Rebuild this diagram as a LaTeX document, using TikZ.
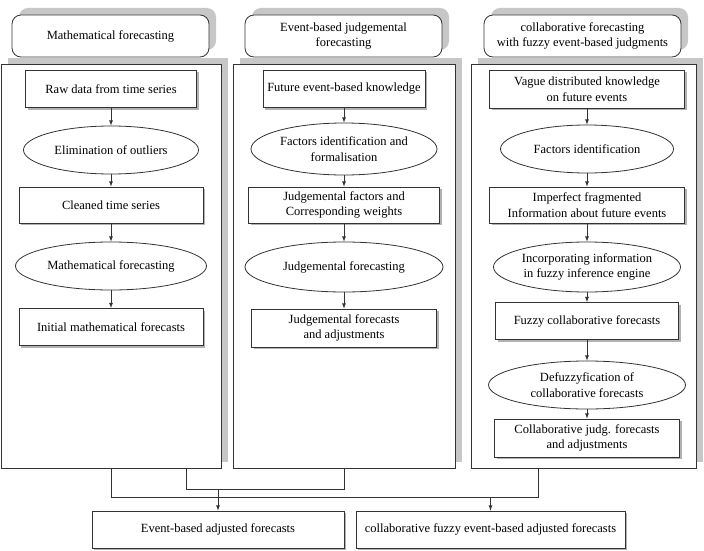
\documentclass[tikz,border=0pt]{standalone}
\usepackage{fontspec}
\setmainfont{Liberation Serif}
\usetikzlibrary{shapes.geometric,shadows}

\begin{document}
\begin{tikzpicture}[x=1pt,y=-1pt,>=latex,
    every node/.style={font=\fontsize{12.5}{15.5}\selectfont,align=center,inner sep=0pt},
    box/.style={draw=black!80,fill=white,line width=0.8pt,minimum height=37pt,
        drop shadow={shadow xshift=2pt,shadow yshift=-2pt,fill=black!30,opacity=1}},
    oval/.style={ellipse,draw=black!80,fill=white,line width=0.8pt,minimum height=48pt},
    frame/.style={draw=black!80,fill=white,line width=0.8pt,minimum height=404pt,
        general shadow={shadow xshift=7pt,shadow yshift=6pt,fill=black!22}},
    head/.style={draw=black!80,fill=white,line width=0.8pt,rounded corners=9pt,
        minimum width=197pt,minimum height=42pt,
        general shadow={shadow xshift=7pt,shadow yshift=7pt,fill=black!22}},
    link/.style={draw=black!80,line width=0.8pt}]
    \useasboundingbox (0,0) rectangle (704,551);

    % headers
    \node[head] (mathhead) at (110.5,36) {Mathematical forecasting};
    \node[head] (evthead) at (343.5,36) {Event-based judgemental\\forecasting};
    \node[head] (colhead) at (582.5,36) {collaborative forecasting\\with fuzzy event-based judgments};

    % column frames
    \node[frame,minimum width=220pt] (mathcol) at (111,266) {};
    \node[frame,minimum width=222pt] (evtcol) at (344,266) {};
    \node[frame,minimum width=225pt] (colcol) at (583.5,266) {};

    % mathematical forecasting
    \node[box,minimum width=171pt] (raw) at (111,89) {Raw data from time series};
    \node[oval,minimum width=175pt] (elim) at (111,150) {Elimination of outliers};
    \node[box,minimum width=184pt,minimum height=36pt] (clean) at (111,205) {Cleaned time series};
    \node[oval,minimum width=191pt] (mfore) at (111,266) {Mathematical forecasting};
    \node[box,minimum width=184pt] (init) at (111,327) {Initial mathematical forecasts};

    % event-based judgemental forecasting
    \node[box,minimum width=162pt] (future) at (344,89) {Future event-based knowledge};
    \node[oval,minimum width=186pt,minimum height=52pt] (fident) at (344,149) {Factors identification and\\formalisation};
    \node[box,minimum width=191pt,minimum height=36pt] (jfact) at (344,205) {Judgemental factors and\\Corresponding weights};
    \node[oval,minimum width=198pt,minimum height=50pt] (jfore) at (344,267) {Judgemental forecasting};
    \node[box,minimum width=185pt,minimum height=38pt] (jadj) at (344,328) {Judgemental forecasts\\and adjustments};

    % collaborative forecasting
    \node[box,minimum width=195pt,minimum height=38pt] (vague) at (587,89) {Vague distributed knowledge\\on future events};
    \node[oval,minimum width=173pt] (fid) at (587,149) {Factors identification};
    \node[box,minimum width=195pt,minimum height=36pt] (imperf) at (587,205) {Imperfect fragmented\\Information about future events};
    \node[oval,minimum width=187pt,minimum height=50pt] (incorp) at (587,267) {Incorporating information\\in fuzzy inference engine};
    \node[box,minimum width=183pt] (fuzzy) at (587,321) {Fuzzy collaborative forecasts};
    \node[oval,minimum width=197pt] (defuzz) at (587,385) {Defuzzyfication of\\collaborative forecasts};
    \node[box,minimum width=185pt,minimum height=38pt] (cjudg) at (587,438) {Collaborative judg. forecasts\\and adjustments};

    % results
    \node[box,minimum width=252pt] (adj) at (218,529.5) {Event-based adjusted forecasts};
    \node[box,minimum width=269pt] (fuzadj) at (490.5,529.5) {collaborative fuzzy event-based adjusted forecasts};

    \draw[link,->] (raw) -- (elim);
    \draw[link,->] (elim) -- (clean);
    \draw[link,->] (clean) -- (mfore);
    \draw[link,->] (mfore) -- (init);

    \draw[link,->] (future) -- (fident);
    \draw[link,->] (fident) -- (jfact);
    \draw[link,->] (jfact) -- (jfore);
    \draw[link,->] (jfore) -- (jadj);

    \draw[link,->] (vague) -- (fid);
    \draw[link,->] (fid) -- (imperf);
    \draw[link,->] (imperf) -- (incorp);
    \draw[link,->] (incorp) -- (fuzzy);
    \draw[link,->] (fuzzy) -- (defuzz);
    \draw[link,->] (defuzz) -- (cjudg);

    \draw[link] (mathcol.south) -- ++(0,29) -| ([xshift=-45pt]colcol.south);
    \draw[link] ([xshift=75pt]mathcol.south) -- ++(0,21) -| (evtcol.south);
    \draw[link,->] (adj.north |- 0,489) -- (adj.north);
    \draw[link,->] (fuzadj.north |- 0,497) -- (fuzadj.north);
\end{tikzpicture}
\end{document}
